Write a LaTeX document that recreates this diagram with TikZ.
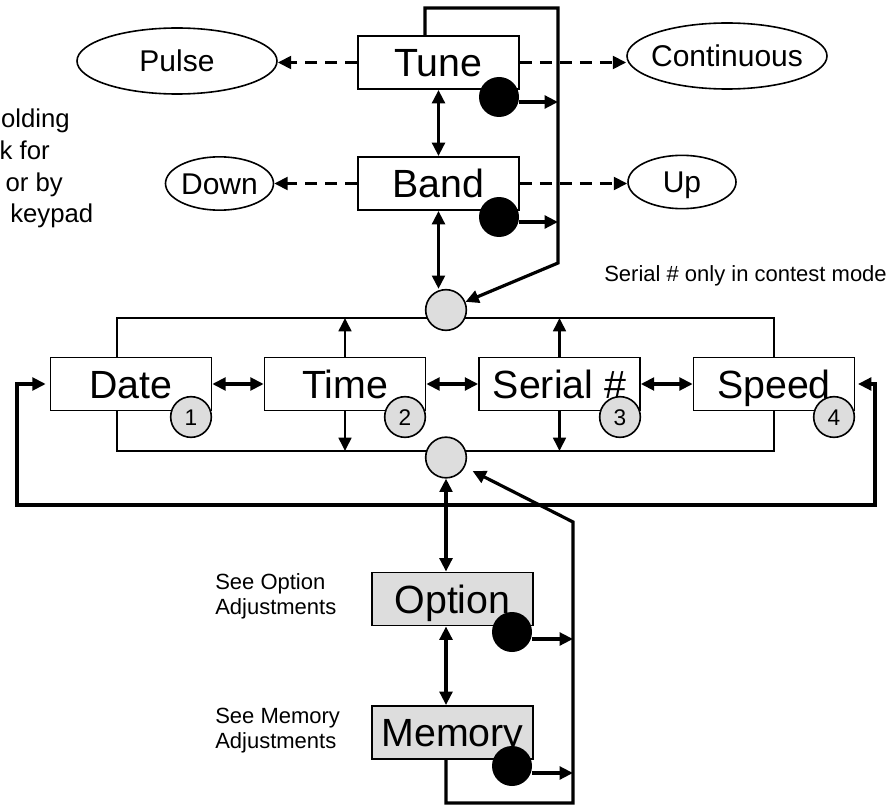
\documentclass[tikz,border=0pt]{standalone}
\usepackage{fontspec}
\setmainfont{Liberation Sans}
\usetikzlibrary{arrows.meta,shapes.geometric,calc}
\definecolor{lgray}{RGB}{221,221,221}
\tikzset{tri/.tip={Triangle[length=10pt,width=9.5pt]}}
\begin{document}
\begin{tikzpicture}[x=0.75pt,y=-0.75pt,
 box/.style={draw,fill=white,line width=1.2pt,minimum width=120.75pt,minimum height=40pt,inner sep=0pt,text height=21pt,text depth=0pt,font=\fontsize{29.5}{32}\selectfont},
 gbox/.style={box,fill=lgray},
 oval/.style={ellipse,draw,line width=1.2pt,inner sep=0pt},
 ovaltxt/.style={font=\fontsize{22.5}{25}\selectfont,text height=16.1pt,text depth=0pt,inner sep=0pt},
 knob/.style={circle,fill=black,minimum size=30pt,inner sep=0pt},
 hub/.style={circle,draw,line width=1.2pt,fill=lgray,minimum size=30.5pt,inner sep=0pt},
 numc/.style={circle,draw,line width=1.2pt,fill=lgray,minimum size=30.5pt,inner sep=0pt,font=\fontsize{17}{18}\selectfont,text height=12.2pt,text depth=0pt},
 dbl/.style={line width=2.4pt,tri-tri},
 lp/.style={line width=2.4pt},
 dsh/.style={line width=2.3pt,dash pattern=on 9pt off 6pt,-tri},
 frm/.style={line width=1.2pt},
 varr/.style={line width=1.9pt,-tri},
 small/.style={font=\fontsize{16.5}{18}\selectfont,inner sep=0pt},
 side/.style={font=\fontsize{19.3}{20}\selectfont,inner sep=0pt}]
\useasboundingbox (0,0) rectangle (892,806);

% coordinates of connector corners
\coordinate (tl1) at (425,8);
\coordinate (tl2) at (558,8);
\coordinate (tl3) at (558,263);
\coordinate (fl) at (117,318);
\coordinate (fr) at (774,318);
\coordinate (fbl) at (117,451);
\coordinate (fbr) at (774,451);
\coordinate (bl) at (17,505);
\coordinate (br) at (875,505);
\coordinate (bl1) at (446,803);
\coordinate (bl2) at (573,803);
\coordinate (bl3) at (573,522);

% side text (cut off at the left edge)
\node[side,anchor=base east] (s1) at (70,128) {olding};
\node[side,anchor=base east] (s2) at (50,160) {k for};
\node[side,anchor=base east] (s3) at (63,191) {or by};
\node[side,anchor=base west] (s4) at (10,222) {keypad};

\node[small,anchor=base west] (note) at (604,281) {Serial \# only in contest mode};
\node[small,anchor=base west] (so1) at (215,589) {See Option};
\node[small,anchor=base west] (so2) at (215,614) {Adjustments};
\node[small,anchor=base west] (sm1) at (215,723) {See Memory};
\node[small,anchor=base west] (sm2) at (215,748) {Adjustments};

% ellipses
\node[oval,minimum width=150pt,minimum height=49.5pt,label={[ovaltxt]center:Pulse}] (pulse) at (177,61) {};
\node[oval,minimum width=150pt,minimum height=49.5pt,label={[ovaltxt]center:Continuous}] (cont) at (727,56) {};
\node[oval,minimum width=81pt,minimum height=40pt,label={[ovaltxt]center:Down}] (down) at (219.5,183.5) {};
\node[oval,minimum width=81pt,minimum height=40pt,label={[ovaltxt]center:Up}] (up) at (682,182) {};

% boxes
\node[box] (tune) at (438.5,62.5) {Tune};
\node[box] (band) at (438.5,183.5) {Band};
\node[box] (date) at (131,384) {Date};
\node[box] (time) at (345,384) {Time};
\node[box] (serial) at (559.5,384) {Serial \#};
\node[box] (speed) at (774,384) {Speed};
\node[gbox] (option) at (452.5,599) {Option};
\node[gbox] (memory) at (452.5,732.5) {Memory};

% frame around the row
\draw[frm] (fl |- date.north) -- (fl) -- (fr) -- (fr |- speed.north);
\draw[frm] (fl |- date.south) -- (fbl) -- (fbr) -- (fr |- speed.south);

% hubs
\node[hub] (topc) at (446,310) {};
\node[hub] (botc) at (446,457.5) {};

% number circles
\node[numc] (n1) at (191,417) {1};
\node[numc] (n2) at (405,417) {2};
\node[numc] (n3) at (620,417) {3};
\node[numc] (n4) at (834,417) {4};

% knobs
\node[knob] (k1) at (499,97) {};
\node[knob] (k2) at (499,217) {};
\node[knob] (k3) at (512,632) {};
\node[knob] (k4) at (512,766) {};

% dashed arrows
\draw[dsh] (tune.west) -- (tune.west -| pulse.east);
\draw[dsh] (tune.east) -- (tune.east -| cont.west);
\draw[dsh] (band.west) -- (band.west -| down.east);
\draw[dsh] (band.east) -- (band.east -| up.west);

% vertical double arrows
\draw[dbl] (tune.south) -- (band.north);
\draw[dbl] (band.south) -- (band.south |- topc.north);
\draw[dbl] (botc.south) -- (botc.south |- option.north);
\draw[dbl] (option.south -| botc) -- (memory.north -| botc);

% row arrows
\draw[dbl] (date.east) -- (time.west);
\draw[dbl] (time.east) -- (serial.west);
\draw[dbl] (serial.east) -- (speed.west);
\draw[varr] (time.north) -- (time.north |- fl);
\draw[varr] (time.south) -- (time.south |- fbl);
\draw[varr] (serial.north) -- (serial.north |- fl);
\draw[varr] (serial.south) -- (serial.south |- fbl);

% loops
\draw[lp,-tri] (tune.north -| tl1) -- (tl1) -- (tl2) -- (tl3) -- (topc);
\draw[lp,-tri,shorten >=6.5pt] (memory.south -| bl1) -- (bl1) -- (bl2) -- (bl3) -- (botc);
\draw[lp,tri-tri,shorten <=3pt,shorten >=2pt] (date.west) -- (date.west -| bl) -- (bl) -- (br) -- (br |- speed.east) -- (speed.east);

% knob arrows
\coordinate (a1) at ([yshift=-3.75pt]k1.east);
\coordinate (a2) at ([yshift=-3.75pt]k2.east);
\coordinate (a3) at ([yshift=-5.25pt]k3.east);
\coordinate (a4) at ([yshift=-5.25pt]k4.east);
\draw[lp,-tri] (a1) -- (a1 -| tl2);
\draw[lp,-tri] (a2) -- (a2 -| tl2);
\draw[lp,-tri] (a3) -- (a3 -| bl2);
\draw[lp,-tri] (a4) -- (a4 -| bl2);
\end{tikzpicture}
\end{document}
